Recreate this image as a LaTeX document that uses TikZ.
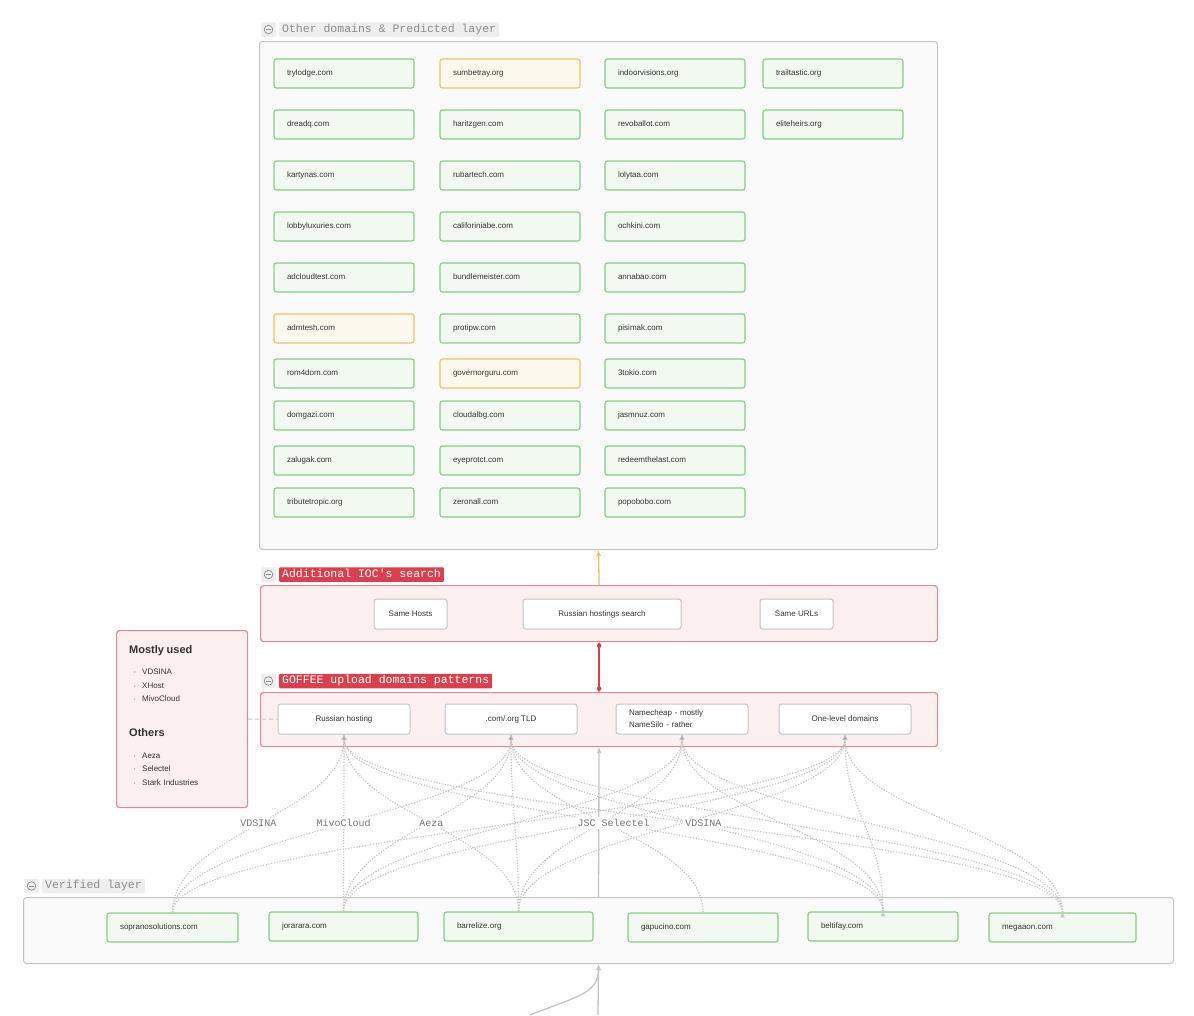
\documentclass[tikz,border=0pt]{standalone}
\usepackage{fontspec}
\setmainfont{Liberation Sans}
\setmonofont{Liberation Mono}
\usepackage{tikz}
\usetikzlibrary{positioning,arrows.meta}
\definecolor{gborder}{HTML}{86CF86}
\definecolor{gfill}{HTML}{F2F9F0}
\definecolor{oborder}{HTML}{ECC46E}
\definecolor{ofill}{HTML}{FDF8EE}
\definecolor{lgrey}{HTML}{C4C4C4}
\definecolor{cfill}{HTML}{FAFAFA}
\definecolor{pfill}{HTML}{FCEFEF}
\definecolor{pborder}{HTML}{E88890}
\definecolor{tred}{HTML}{D8404E}
\definecolor{tgrey}{HTML}{EEEEEE}
\definecolor{txtgrey}{HTML}{8C8C8C}
\definecolor{amber}{HTML}{E9C265}
\definecolor{dtext}{HTML}{333333}
\definecolor{htext}{HTML}{777777}
\definecolor{bulgrey}{HTML}{B0B0B0}
\newcommand*{\blt}{\makebox[13pt][l]{\hspace{4.5pt}\textcolor{bulgrey}{\scalebox{0.75}{\textbullet}}}}

\begin{document}
\begin{tikzpicture}[x=1pt,y=-1pt,
    font=\fontsize{8}{10}\selectfont,
    cont/.style={draw=lgrey,fill=cfill,line width=1pt,rounded corners=3pt,inner sep=0pt,anchor=north west},
    pcont/.style={cont,draw=pborder,fill=pfill,line width=1.2pt},
    dom/.style={draw=gborder,fill=gfill,line width=1.2pt,rounded corners=2.5pt,minimum height=29pt,text width=114pt,inner xsep=13pt,align=left,text height=6pt,text depth=1.5pt,text=dtext},
    pred/.style={dom,draw=oborder,fill=ofill},
    framed/.style={draw=lgrey,fill=white,line width=1pt,rounded corners=2.5pt,minimum height=30pt,inner sep=0pt,text=dtext},
    plain/.style={framed,text height=6pt,text depth=1.5pt},
    ttl/.style={fill=tgrey,text=txtgrey,font=\ttfamily\fontsize{11.5}{12}\selectfont,text height=8pt,text depth=2.5pt,inner ysep=2pt,inner xsep=3pt,rounded corners=1pt},
    rttl/.style={ttl,fill=tred,text=white},
    icon/.style={fill=tgrey,minimum size=14.5pt,inner sep=0pt,rounded corners=1pt,
      path picture={\draw[txtgrey,line width=0.7pt] (path picture bounding box.center) circle[radius=4.3pt];
        \draw[txtgrey,line width=0.7pt] ([xshift=-2.3pt]path picture bounding box.center) -- ([xshift=2.3pt]path picture bounding box.center);}},
    link/.style={draw=lgrey,line width=1.1pt,dash pattern=on 1.2pt off 1.6pt,-{Latex[length=5pt,width=5pt]}},
    rise/.style={to path={(\tikztostart) .. controls +(0,-80) and +(0,80) .. (\tikztotarget) \tikztonodes}},
    hosting/.style={fill=white,text=htext,font=\ttfamily\fontsize{10}{10}\selectfont,inner sep=2pt},
    solidg/.style={draw=lgrey,line width=1.3pt,-{Latex[length=6pt,width=5pt]}}
  ]
  \fill[white] (0,0) rectangle (1194,1015);
  \useasboundingbox (0,0) rectangle (1194,1015);

  \node[cont,minimum width=678pt,minimum height=508pt] (other) at (259,41) {};
  \node[icon] (othericon) at (268.5,29.5) {};
  \node[ttl,right=3pt of othericon] (othertitle) {Other domains \& Predicted layer};

  \node[dom] (trylodge) at (344,73.5) {trylodge.com};
  \node[pred] (sumbetray) at (510,73.5) {sumbetray.org};
  \node[dom] (indoorvisions) at (675,73.5) {indoorvisions.org};
  \node[dom] (trailtastic) at (833,73.5) {trailtastic.org};
  \node[dom] (dreadq) at (344,124.5) {dreadq.com};
  \node[dom] (haritzgen) at (510,124.5) {haritzgen.com};
  \node[dom] (revoballot) at (675,124.5) {revoballot.com};
  \node[dom] (eliteheirs) at (833,124.5) {eliteheirs.org};
  \node[dom] (kartynas) at (344,175.5) {kartynas.com};
  \node[dom] (rubartech) at (510,175.5) {rubartech.com};
  \node[dom] (lolytaa) at (675,175.5) {lolytaa.com};
  \node[dom] (lobbyluxuries) at (344,226.5) {lobbyluxuries.com};
  \node[dom] (califoriniabe) at (510,226.5) {califoriniabe.com};
  \node[dom] (ochkini) at (675,226.5) {ochkini.com};
  \node[dom] (adcloudtest) at (344,277.5) {adcloudtest.com};
  \node[dom] (bundlemeister) at (510,277.5) {bundlemeister.com};
  \node[dom] (annabao) at (675,277.5) {annabao.com};
  \node[pred] (admtesh) at (344,328.5) {admtesh.com};
  \node[dom] (protipw) at (510,328.5) {protipw.com};
  \node[dom] (pisimak) at (675,328.5) {pisimak.com};
  \node[dom] (rom4dom) at (344,373.5) {rom4dom.com};
  \node[pred] (governorguru) at (510,373.5) {governorguru.com};
  \node[dom] (3tokio) at (675,373.5) {3tokio.com};
  \node[dom] (domgazi) at (344,415.5) {domgazi.com};
  \node[dom] (cloudalbg) at (510,415.5) {cloudalbg.com};
  \node[dom] (jasmnuz) at (675,415.5) {jasmnuz.com};
  \node[dom] (zalugak) at (344,460.5) {zalugak.com};
  \node[dom] (eyeprotct) at (510,460.5) {eyeprotct.com};
  \node[dom] (redeemthelast) at (675,460.5) {redeemthelast.com};
  \node[dom] (tributetropic) at (344,502.5) {tributetropic.org};
  \node[dom] (zeronall) at (510,502.5) {zeronall.com};
  \node[dom] (popobobo) at (675,502.5) {popobobo.com};

  \node[pcont,minimum width=677pt,minimum height=56pt] (ioc) at (260,585) {};
  \node[icon] (iocicon) at (268.5,574.5) {};
  \node[rttl,right=3pt of iocicon] (ioctitle) {Additional IOC's search};
  \node[plain,minimum width=73pt] (samehosts) at (410.5,614) {Same Hosts};
  \node[plain,minimum width=158pt] (rusearch) at (602,614) {Russian hostings search};
  \node[plain,minimum width=73pt] (sameurls) at (796.5,614) {Same URLs};

  \node[pcont,minimum width=677pt,minimum height=54pt] (goffee) at (260,692) {};
  \node[icon] (goffeeicon) at (268.5,681) {};
  \node[rttl,right=3pt of goffeeicon] (goffeetitle) {GOFFEE upload domains patterns};
  \node[plain,minimum width=132pt] (rh) at (344,719) {Russian hosting};
  \node[plain,minimum width=132pt] (tld) at (511,719) {.com/.org TLD};
  \node[framed,text width=106pt,inner xsep=13pt,align=left,font=\fontsize{8}{12}\selectfont] (nc) at (682,719) {Namecheap - mostly\\NameSilo - rather};
  \node[plain,minimum width=132pt] (onelevel) at (845,719) {One-level domains};

  \node[pcont,minimum width=131pt,minimum height=177pt] (mostly) at (116,630) {};
  \node[anchor=north west,text width=112pt,align=left,inner sep=0pt,font=\fontsize{8}{13.5}\selectfont,text=dtext] (hostlist) at (129,645) {%
    {\fontsize{11}{13}\selectfont\bfseries Mostly used}\\[8pt]
    \blt VDSINA\\
    \blt XHost\\
    \blt MivoCloud\\[21.5pt]
    {\fontsize{11}{13}\selectfont\bfseries Others}\\[8pt]
    \blt Aeza\\
    \blt Selectel\\
    \blt Stark Industries};

  \node[cont,minimum width=1150pt,minimum height=66pt] (verified) at (23,897) {};
  \node[icon] (verifiedicon) at (31.5,886) {};
  \node[ttl,right=3pt of verifiedicon] (verifiedtitle) {Verified layer};
  \node[dom,text width=105pt] (soprano) at (172.5,927.5) {sopranosolutions.com};
  \node[dom,text width=123pt] (jorarara) at (343.5,926.5) {jorarara.com};
  \node[dom,text width=123pt] (barrelize) at (518.5,926.5) {barrelize.org};
  \node[dom,text width=124pt] (gapucino) at (703,927.5) {gapucino.com};
  \node[dom,text width=124pt] (beltifay) at (883,926.5) {beltifay.com};
  \node[dom,text width=121pt] (megaaon) at (1062.5,927.5) {megaaon.com};

  \path[link]
    (soprano.north) edge[rise] (tld.south)
    edge[rise] (onelevel.south)
    (jorarara.north) edge[rise] (tld.south)
    edge[rise] (nc.south)
    edge[rise] (onelevel.south)
    (barrelize.north) edge[rise] (tld.south)
    edge[rise] (nc.south)
    edge[rise] (onelevel.south)
    (gapucino.north) edge[rise] (tld.south)
    (beltifay.north) edge[rise] (tld.south)
    edge[rise] (nc.south)
    edge[rise] (onelevel.south)
    (megaaon.north) edge[rise] (tld.south)
    edge[rise] (nc.south)
    edge[rise] (onelevel.south);

  \draw[solidg] (verified.north) -- (goffee.south);

  \path[link]
    (soprano.north) edge[rise] node[hosting] {VDSINA} (rh.south)
    (jorarara.north) edge[rise] node[hosting] {MivoCloud} (rh.south)
    (barrelize.north) edge[rise] node[hosting] {Aeza} (rh.south)
    (megaaon.north) edge[rise] node[hosting] {VDSINA} (rh.south)
    (beltifay.north) edge[rise] node[hosting] {JSC Selectel} (rh.south);

  \draw[draw=amber,line width=1.3pt,-{Latex[length=6pt,width=5pt]}] (ioc.north) -- (other.south);
  \draw[draw=tred,line width=1.3pt,{Diamond[length=7pt,width=5pt]}-{Diamond[length=7pt,width=5pt]}] (goffee.north) -- (ioc.south);
  \draw[lgrey,line width=1pt,dash pattern=on 4pt off 3pt] (mostly.east) -- (rh.west);

  \coordinate (feed) at (598,1015);
  \coordinate (feedcurve) at (530,1015);
  \draw[solidg] (feed) -- (verified.south);
  \draw[solidg] (feedcurve) .. controls +(45,-18) and +(0,30) .. (verified.south);
\end{tikzpicture}
\end{document}
